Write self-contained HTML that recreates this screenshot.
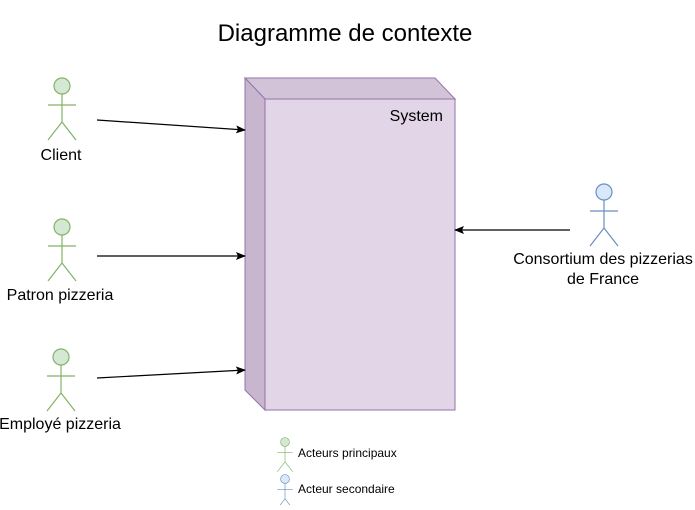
<!DOCTYPE html>
<html><head><meta charset="utf-8"><style>
body{margin:0;background:#fff}
text{font-family:"Liberation Sans",Arial,sans-serif;fill:#000}
</style></head><body>
<svg width="695" height="505" xmlns="http://www.w3.org/2000/svg">
<defs><marker id="a" markerWidth="10" markerHeight="8" refX="9" refY="4" orient="auto" markerUnits="userSpaceOnUse"><path d="M0,0 L10,4 L0,8 L2,4 z" fill="#000"/></marker>
<g id="ag"><circle cx="0" cy="0" r="8" fill="#d5e8d4" stroke="#82b366" stroke-width="1.2"/><path d="M0,8 V36 M-14,19 H14 M0,36 L-14,54 M0,36 L14,54" stroke="#82b366" stroke-width="1.2" fill="none"/></g>
<g id="ab"><circle cx="0" cy="0" r="8" fill="#dae8fc" stroke="#6c8ebf" stroke-width="1.2"/><path d="M0,8 V36 M-14,19 H14 M0,36 L-14,54 M0,36 L14,54" stroke="#6c8ebf" stroke-width="1.2" fill="none"/></g>
</defs>
<text x="345" y="41" font-size="24" text-anchor="middle">Diagramme de contexte</text>
<polygon points="245,78 435,78 455,99 265,99" fill="#d3c3d9" stroke="#9673a6"/>
<polygon points="245,78 265,99 265,410 245,390" fill="#c8b6cf" stroke="#9673a6"/>
<rect x="265" y="99" width="190" height="311" fill="#e1d5e7" stroke="#9673a6"/>
<text x="443" y="121" font-size="16" text-anchor="end">System</text>
<use href="#ag" x="62" y="86"/><text x="61" y="160" font-size="16" text-anchor="middle">Client</text>
<use href="#ag" x="62" y="227"/><text x="60" y="300" font-size="16" text-anchor="middle">Patron pizzeria</text>
<use href="#ag" x="61" y="357"/><text x="60" y="429" font-size="16" text-anchor="middle">Employé pizzeria</text>
<use href="#ab" x="604" y="192"/><text x="603" y="264" font-size="16" text-anchor="middle">Consortium des pizzerias</text><text x="603" y="284" font-size="16" text-anchor="middle">de France</text>
<g stroke="#000" stroke-width="1.2" marker-end="url(#a)">
<line x1="97" y1="120" x2="245" y2="130"/>
<line x1="97" y1="256" x2="245" y2="256"/>
<line x1="97" y1="378" x2="245" y2="370"/>
<line x1="570" y1="230" x2="455" y2="230"/>
</g>
<g transform="translate(285,442) scale(0.55)"><use href="#ag"/></g>
<text x="298" y="457" font-size="12">Acteurs principaux</text>
<g transform="translate(285,479) scale(0.55)"><use href="#ab"/></g>
<text x="298" y="493" font-size="12">Acteur secondaire</text>
</svg>
</body></html>
